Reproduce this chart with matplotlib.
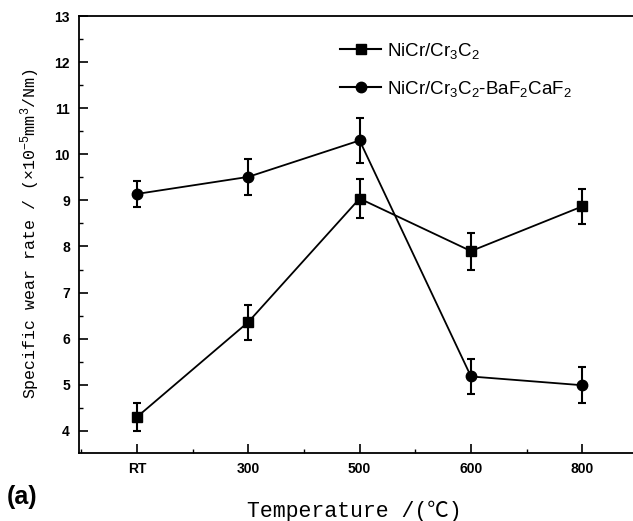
import matplotlib
matplotlib.use('Agg')
import matplotlib.pyplot as plt
from matplotlib.ticker import MultipleLocator
from matplotlib.lines import Line2D

categories = ['RT', '300', '500', '600', '800']
nicr = [4.30, 6.36, 9.04, 7.90, 8.87]
nicr_err = [0.30, 0.38, 0.42, 0.40, 0.38]
baf = [9.14, 9.51, 10.30, 5.18, 4.99]
baf_err = [0.28, 0.39, 0.48, 0.39, 0.39]
label_nicr = r"NiCr/Cr$_{\mathsf{3}}$C$_{\mathsf{2}}$"
label_baf = r"NiCr/Cr$_{\mathsf{3}}$C$_{\mathsf{2}}$-BaF$_{\mathsf{2}}$CaF$_{\mathsf{2}}$"

plt.rcParams['mathtext.fontset'] = 'custom'
plt.rcParams['mathtext.rm'] = 'Liberation Mono'
plt.rcParams['mathtext.it'] = 'Liberation Mono'
plt.rcParams['mathtext.sf'] = 'Liberation Sans'
plt.rcParams['font.family'] = ['Liberation Sans', 'DejaVu Sans']

W, H = 633, 521
fig = plt.figure(figsize=(W / 100, H / 100), dpi=100)
ax = fig.add_axes([79 / W, 1 - 453 / H, (638 - 79) / W, (453 - 16) / H])

x = list(range(len(categories)))
common = dict(color='black', lw=1.3, elinewidth=1.5, capsize=3, capthick=1.5)
ax.errorbar(x, nicr, yerr=nicr_err, marker='s', ms=7.5, **common)
ax.errorbar(x, baf, yerr=baf_err, marker='o', ms=7.5, **common)

ax.set_xlim(-0.52, 4.5)
ax.set_ylim(3.52, 13)
ax.set_xticks(x)
ax.set_xticklabels(categories)
ax.xaxis.set_minor_locator(MultipleLocator(0.5))
ax.yaxis.set_major_locator(MultipleLocator(1))
ax.yaxis.set_minor_locator(MultipleLocator(0.5))
ax.tick_params(which='major', direction='in', length=6.5, width=1.2, pad=6.5,
               labelsize=10)
ax.tick_params(which='minor', direction='in', length=3, width=1.0)
ax.tick_params(axis='x', which='both', top=False)
ax.tick_params(axis='y', which='both', right=False)
for lab in ax.get_xticklabels() + ax.get_yticklabels():
    lab.set_fontweight('bold')
for s in ax.spines.values():
    s.set_linewidth(1.3)

fig.text(354 / W, 1 - 511 / H, "Temperature /(\u2103)", ha='center', va='center',
         fontsize=15.5, family=['Liberation Mono', 'Noto Sans CJK SC'])
fig.text(30 / W, 1 - 234 / H, r"Specific wear rate / (×10$^{-5}$mm$^{3}$/Nm)",
         ha='center', va='center', rotation=90, fontsize=12,
         family=['Liberation Mono', 'DejaVu Sans Mono'])
fig.text(7 / W, 1 - 497 / H, "(a)", ha='left', va='center', fontsize=18,
         fontweight='bold')

handles = [Line2D([], [], color='black', lw=1.5, marker='s', ms=7.5),
           Line2D([], [], color='black', lw=1.5, marker='o', ms=7.5)]
leg = ax.legend(handles, [label_nicr, label_baf], loc='upper left',
                bbox_to_anchor=(340 / W, 1 - 41 / H),
                bbox_transform=fig.transFigure, frameon=False, fontsize=13.5,
                handlelength=2.2, handletextpad=0.3, labelspacing=0.95,
                borderpad=0, borderaxespad=0)

fig.savefig('out.png', dpi=100)
